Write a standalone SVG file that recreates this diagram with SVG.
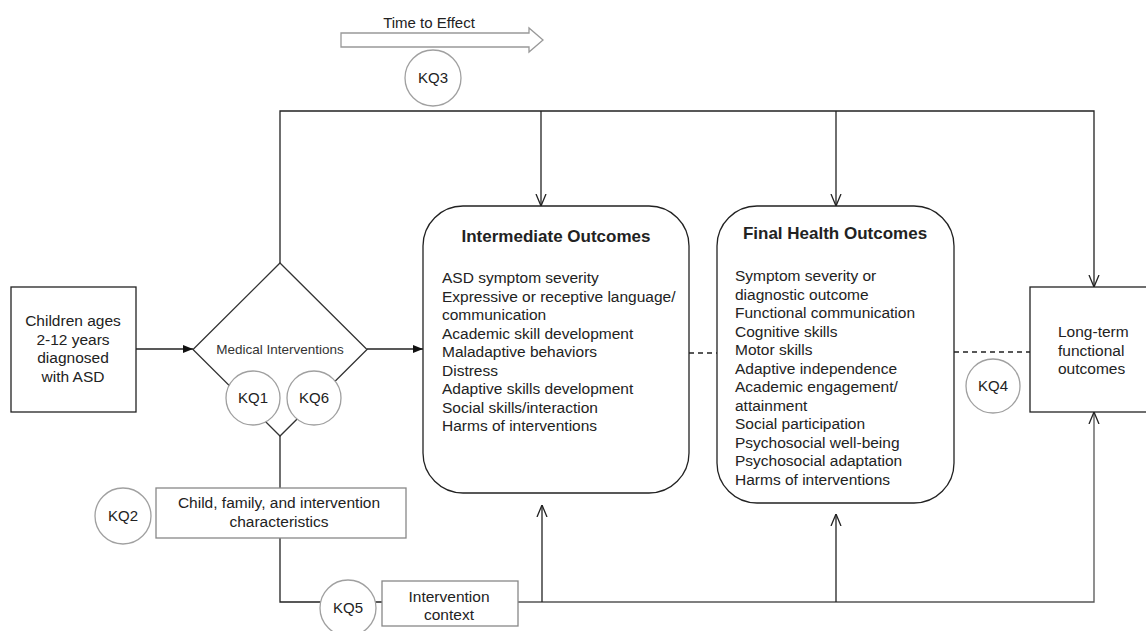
<svg xmlns="http://www.w3.org/2000/svg" width="1146" height="631" viewBox="0 0 1146 631">
<style>
text{font-family:"Liberation Sans",Arial,sans-serif;font-size:15.5px;fill:#222}
.c{text-anchor:middle}
.t{font-weight:bold;font-size:17px}
.ln{stroke:#222;stroke-width:1.3;fill:none}
.g{stroke:#555;stroke-width:1.3;fill:none}
.kq{fill:#fff;stroke:#a0a0a0;stroke-width:1.3}
.box{fill:#fff;stroke:#222;stroke-width:1.3}
.gbox{fill:#fff;stroke:#888;stroke-width:1.3}
.dash{stroke:#222;stroke-width:1.3;stroke-dasharray:5,4;fill:none}
</style>
<defs>
<marker id="open" viewBox="0 0 12 12" refX="12" refY="6" markerWidth="12" markerHeight="12" markerUnits="userSpaceOnUse" orient="auto">
<path d="M0,1 L12,6 L0,11" fill="none" stroke="#222" stroke-width="1.3"/>
</marker>
<marker id="fill" viewBox="0 0 10 8" refX="10" refY="4" markerWidth="10" markerHeight="8" markerUnits="userSpaceOnUse" orient="auto">
<path d="M0,0 L10,4 L0,8 z" fill="#111"/>
</marker>
</defs>
<g id="connectors">
<path class="ln" d="M280,263 V111 H1094 V287" marker-end="url(#open)"/>
<path class="ln" d="M541,111 V206" marker-end="url(#open)"/>
<path class="ln" d="M836,111 V206" marker-end="url(#open)"/>
<path class="ln" d="M136,349 H193" marker-end="url(#fill)"/>
<path class="ln" d="M367,349 H423" marker-end="url(#fill)"/>
<path class="ln" d="M280,436 V488"/>
<path class="ln" d="M280,538 V602 H382"/>
<path class="g" d="M518,602 H1094 V412" marker-end="url(#open)"/>
<path class="ln" d="M542,602 V505" marker-end="url(#open)"/>
<path class="ln" d="M836,602 V514" marker-end="url(#open)"/>
<path class="dash" d="M689,353 H717"/>
<path class="dash" d="M954,352 H1030"/>
</g>
<g id="time-to-effect">
<text x="429" y="28" class="c" style="font-size:15px">Time to Effect</text>
<polygon points="341,33 529,33 529,28 543,40 529,52 529,47 341,47" fill="#fff" stroke="#999" stroke-width="1.3"/>
</g>
<g id="kq3"><circle class="kq" cx="433" cy="78" r="28"/><text x="433" y="83" class="c" style="font-size:15px">KQ3</text></g>
<g id="children">
<rect class="box" x="11" y="287" width="125" height="125"/>
<text class="c" x="73"><tspan x="73" y="326">Children ages</tspan><tspan x="73" y="344.5">2-12 years</tspan><tspan x="73" y="363">diagnosed</tspan><tspan x="73" y="381.5">with ASD</tspan></text>
</g>
<g id="medical-interventions">
<polygon points="280,263 367,349.5 280,436 193,349.5" fill="#fff" stroke="#333" stroke-width="1.3"/>
<text x="280" y="354" class="c" style="font-size:13.5px;fill:#333">Medical Interventions</text>
</g>
<g id="kq1"><circle class="kq" cx="253" cy="398" r="27"/><text x="253" y="403" class="c" style="font-size:15px">KQ1</text></g>
<g id="kq6"><circle class="kq" cx="314" cy="398" r="27"/><text x="314" y="403" class="c" style="font-size:15px">KQ6</text></g>
<g id="intermediate">
<rect class="box" x="423" y="206" width="266" height="287" rx="40" ry="40"/>
<text x="556" y="242" class="c t">Intermediate Outcomes</text>
<text x="442"><tspan x="442" y="283">ASD symptom severity</tspan><tspan x="442" y="301.5">Expressive or receptive language/</tspan><tspan x="442" y="320">communication</tspan><tspan x="442" y="338.5">Academic skill development</tspan><tspan x="442" y="357">Maladaptive behaviors</tspan><tspan x="442" y="375.5">Distress</tspan><tspan x="442" y="394">Adaptive skills development</tspan><tspan x="442" y="412.5">Social skills/interaction</tspan><tspan x="442" y="431">Harms of interventions</tspan></text>
</g>
<g id="final">
<rect class="box" x="717" y="206" width="237" height="297" rx="40" ry="40"/>
<text x="835" y="239" class="c t">Final Health Outcomes</text>
<text x="735"><tspan x="735" y="281">Symptom severity or</tspan><tspan x="735" y="299.5">diagnostic outcome</tspan><tspan x="735" y="318">Functional communication</tspan><tspan x="735" y="336.5">Cognitive skills</tspan><tspan x="735" y="355">Motor skills</tspan><tspan x="735" y="373.5">Adaptive independence</tspan><tspan x="735" y="392">Academic engagement/</tspan><tspan x="735" y="410.5">attainment</tspan><tspan x="735" y="429">Social participation</tspan><tspan x="735" y="447.5">Psychosocial well-being</tspan><tspan x="735" y="466">Psychosocial adaptation</tspan><tspan x="735" y="484.5">Harms of interventions</tspan></text>
</g>
<g id="long-term">
<rect class="box" x="1030" y="287" width="125" height="125"/>
<text x="1058"><tspan x="1058" y="337">Long-term</tspan><tspan x="1058" y="355.5">functional</tspan><tspan x="1058" y="374">outcomes</tspan></text>
</g>
<g id="kq4"><circle class="kq" cx="993" cy="386" r="27"/><text x="993" y="391" class="c" style="font-size:15px">KQ4</text></g>
<g id="characteristics">
<rect class="gbox" x="156" y="488" width="250" height="50"/>
<text class="c" x="279"><tspan x="279" y="508">Child, family, and intervention</tspan><tspan x="279" y="527">characteristics</tspan></text>
</g>
<g id="kq2"><circle class="kq" cx="123" cy="516" r="28"/><text x="123" y="521" class="c" style="font-size:15px">KQ2</text></g>
<g id="kq5"><circle class="kq" cx="348" cy="608" r="28"/><text x="348" y="613" class="c" style="font-size:15px">KQ5</text></g>
<g id="context">
<rect class="gbox" x="382" y="581" width="136" height="45"/>
<text class="c" x="449"><tspan x="449" y="602">Intervention</tspan><tspan x="449" y="619.5">context</tspan></text>
</g>
</svg>
